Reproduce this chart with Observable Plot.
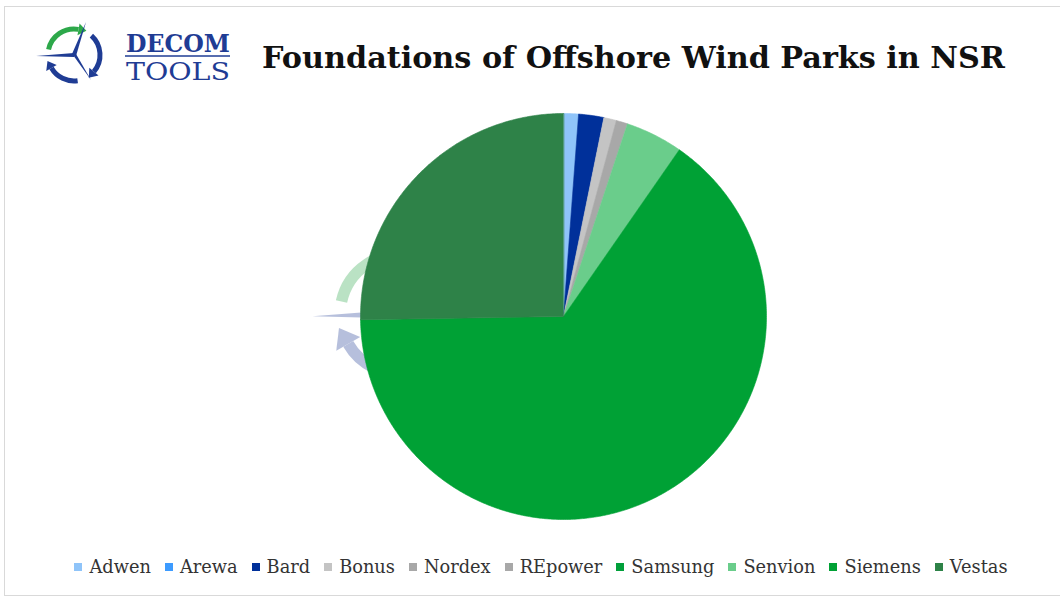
<!DOCTYPE html>
<html>
<head>
<meta charset="utf-8">
<script src="https://cdn.jsdelivr.net/npm/d3@7"></script>
<script src="https://cdn.jsdelivr.net/npm/@observablehq/plot@0.6"></script>
<style>
  html, body { margin: 0; padding: 0; background: #fff; }
  #wrap { position: relative; width: 1060px; height: 599px; overflow: hidden; font-family: "DejaVu Serif", serif; }
  #frame { position: absolute; left: 4px; top: 6px; width: 1060px; height: 590px; border: 1px solid #d9d9d9; box-sizing: border-box; }
  #head { position: absolute; left: 0; top: 0; }
  #mark { position: absolute; left: 0; top: 0; pointer-events: none; }
  #chart { position: absolute; left: 0; top: 100px; }
  #legend { position: absolute; left: 11px; top: 556px; width: 1060px; display: flex; justify-content: center; gap: 14px; font-size: 17.8px; color: #333; }
  #legend .item { display: flex; align-items: center; white-space: nowrap; }
  #legend .sw { width: 8px; height: 8px; margin-right: 7px; display: inline-block; }
</style>
</head>
<body>
<div id="wrap">
  <div id="frame"></div>
  <svg id="mark" width="1060" height="599"></svg>
  <div id="chart"></div>
  <svg id="head" width="1060" height="100"></svg>
  <div id="legend"></div>
</div>
<script>
// ---- data ----
const categories = ["Adwen", "Arewa", "Bard", "Bonus", "Nordex", "REpower", "Samsung", "Senvion", "Siemens", "Vestas"];
const foundations = [13, 0, 22, 11, 10, 0, 0, 50, 714, 277];
const colors = ["#8FC4F9", "#3D9BFF", "#00309A", "#C4C4C4", "#A8A8A8", "#A8A8A8", "#00A03A", "#6ACD8B", "#00A135", "#2E8248"];
const titleText = "Foundations of Offshore Wind Parks in NSR";

// ---- logo (decoration) ----
function icon(g, s, opacity) {
  const navy = "#1F3C94", green = "#2DA84A";
  const arc = (r, a0, a1) => {
    const p = a => [r * Math.cos(a * Math.PI / 180), r * Math.sin(a * Math.PI / 180)];
    const [x0, y0] = p(a0), [x1, y1] = p(a1);
    return `M${x0},${y0} A${r},${r} 0 0 1 ${x1},${y1}`;
  };
  const head = (r, a, color) => {
    const rad = a * Math.PI / 180;
    const x = r * Math.cos(rad), y = r * Math.sin(rad);
    const tx = -Math.sin(rad), ty = Math.cos(rad);
    const nx = Math.cos(rad), ny = Math.sin(rad);
    return `<path d="M${x + tx * 8},${y + ty * 8} L${x + nx * 6},${y + ny * 6} L${x - nx * 6},${y - ny * 6} Z" fill="${color}"/>`;
  };
  g.innerHTML = `
    <g opacity="${opacity}" transform="scale(${s})">
      <path d="${arc(26, 192, 280)}" fill="none" stroke="${green}" stroke-width="5"/>
      ${head(26, 280, green)}
      <path d="${arc(26, 312, 400)}" fill="none" stroke="${navy}" stroke-width="5"/>
      ${head(26, 400, navy)}
      <path d="${arc(26, 82, 150)}" fill="none" stroke="${navy}" stroke-width="5"/>
      ${head(26, 150, navy)}
      <path d="M-38,1 L0,-2 L0,2 Z" fill="${navy}"/>
      <path d="M12,-33 L2,1 L-2,-1 Z" fill="${navy}"/>
      <path d="M17,25 L-1,0 L2,-1 Z" fill="${navy}"/>
    </g>`;
}

const head = document.getElementById("head");
head.innerHTML = `
  <g id="logo" transform="translate(74,55)"></g>
  <text x="126" y="52" font-family="DejaVu Serif" font-weight="bold" font-size="25" fill="#1F3C94" textLength="104" lengthAdjust="spacingAndGlyphs">DECOM</text>
  <line x1="125" y1="56" x2="230" y2="56" stroke="#1F3C94" stroke-width="1.5"/>
  <text x="126" y="80" font-family="DejaVu Serif" font-size="24" fill="#1F3C94" textLength="104" lengthAdjust="spacingAndGlyphs">TOOLS</text>
  <text x="262" y="68" font-family="DejaVu Serif" font-weight="bold" font-size="30" fill="#111" textLength="743" lengthAdjust="spacingAndGlyphs">${titleText}</text>`;
icon(document.getElementById("logo"), 1, 1);

const mark = document.getElementById("mark");
mark.innerHTML = `<g id="wm" transform="translate(400,314)"></g>`;
icon(document.getElementById("wm"), 2.3, 0.32);

// ---- pie ----
const arcs = d3.pie().sort(null).value(d => d)(foundations);
const rows = [];
arcs.forEach((a, i) => {
  const span = a.endAngle - a.startAngle;
  if (span <= 0) return;
  const n = Math.max(2, Math.ceil(span / (Math.PI / 360)));
  rows.push({cat: categories[i], x: 0, y: 0});
  for (let k = 0; k <= n; k++) {
    const t = a.startAngle + span * k / n;
    rows.push({cat: categories[i], x: Math.sin(t), y: Math.cos(t)});
  }
});

const plot = Plot.plot({
  width: 1060,
  height: 429,
  marginLeft: 360,
  marginRight: 294,
  marginTop: 13,
  marginBottom: 10,
  style: {background: "transparent", overflow: "visible"},
  x: {domain: [-1, 1], axis: null},
  y: {domain: [-1, 1], axis: null},
  color: {domain: categories, range: colors},
  marks: [
    Plot.line(rows, {x: "x", y: "y", z: "cat", fill: "cat", stroke: "cat", strokeWidth: 0.6, curve: "linear-closed"})
  ]
});
document.getElementById("chart").appendChild(plot);

// ---- legend ----
const legend = document.getElementById("legend");
categories.forEach((c, i) => {
  const item = document.createElement("div");
  item.className = "item";
  item.innerHTML = `<span class="sw" style="background:${colors[i]}"></span><span>${c}</span>`;
  legend.appendChild(item);
});
</script>
</body>
</html>
